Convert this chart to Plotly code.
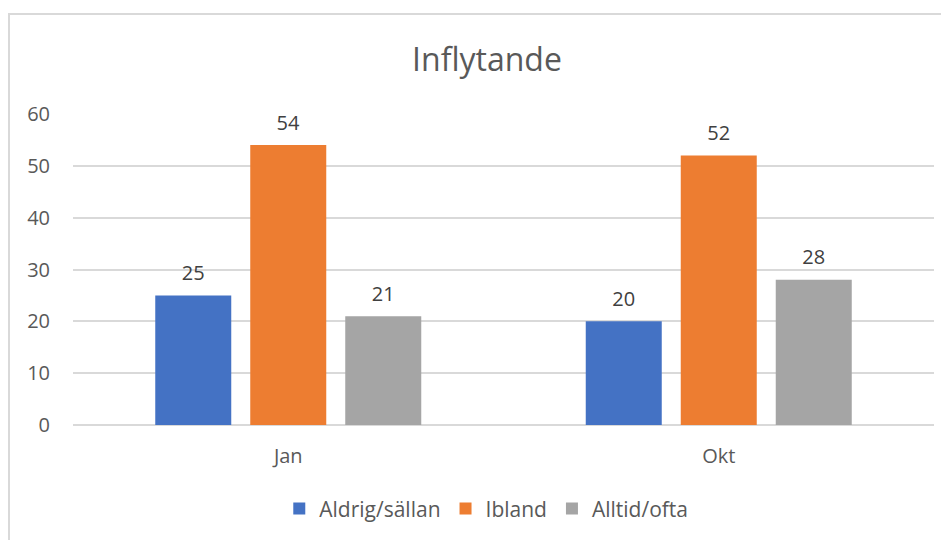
import plotly.graph_objects as go

categories = ["Jan", "Okt"]
series_names = ["Aldrig/sällan", "Ibland", "Alltid/ofta"]
aldrig = [25, 20]
ibland = [54, 52]
alltid = [21, 28]
colors = ["#4472C4", "#ED7D31", "#A5A5A5"]
y_ticks = [0, 10, 20, 30, 40, 50, 60]

FONT = "Open Sans"
OFF = 8  # page body margin

fig = go.Figure()
for name, vals, col in zip(series_names, [aldrig, ibland, alltid], colors):
    fig.add_trace(go.Bar(
        x=categories, y=vals, name=name, marker=dict(color=col, line=dict(width=0)),
        text=[f"<span style='font-size:20px'>{v}</span><br> " for v in vals],
        textposition="outside", cliponaxis=False, constraintext="none",
        textfont=dict(family=FONT, size=8, color="#404040"),
    ))

L, T = 73 - OFF, 114 - OFF
R = 949 - (934 - OFF)
B = 540 - (425 - OFF)

fig.update_layout(
    width=949, height=540,
    margin=dict(l=L, r=R, t=T, b=B),
    paper_bgcolor="white", plot_bgcolor="white",
    barmode="group", bargap=0.338, bargroupgap=0.2,
    title=dict(text="Inflytande", x=(487 - OFF) / 949, xref="container", xanchor="center",
               y=1 - (60 - OFF) / 540, yref="container", yanchor="middle",
               font=dict(family=FONT, size=32, color="#595959")),
    showlegend=True,
    legend=dict(orientation="h", x=0.48, xanchor="center", y=-0.27, yanchor="middle",
                font=dict(family=FONT, size=21, color="#595959"),
                itemwidth=30, traceorder="normal"),
    xaxis=dict(showgrid=False, showline=False, ticks="", ticklabelstandoff=17,
               tickfont=dict(family=FONT, size=20, color="#595959")),
    yaxis=dict(range=[0, 60], tickvals=y_ticks, showgrid=True, gridcolor="#D9D9D9", gridwidth=1.5,
               zeroline=True, zerolinecolor="#D9D9D9", zerolinewidth=1.5, showline=False, ticks="",
               ticklabelstandoff=22,
               tickfont=dict(family=FONT, size=20, color="#595959")),
    shapes=[dict(type="rect", xref="paper", yref="paper",
                 x0=(9 - 73) / 861, x1=1.2, y0=-0.6, y1=1 + (114 - 14) / 311,
                 line=dict(color="#D9D9D9", width=2), layer="below")],
)

fig.write_html("out.html")
